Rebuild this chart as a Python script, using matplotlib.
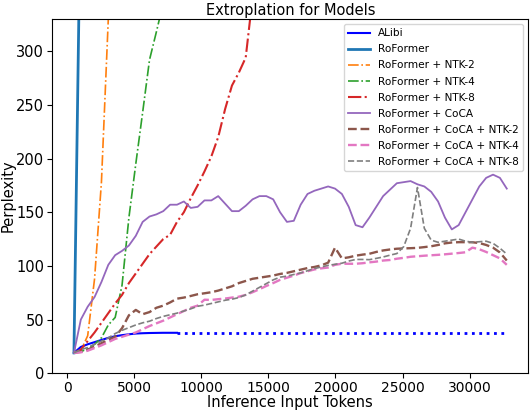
import matplotlib
matplotlib.use("Agg")
import matplotlib.pyplot as plt
import numpy as np

# context lengths evaluated (step of 512 tokens)
tokens = np.arange(512, 32768 + 1, 512)

alibi = [19, 24.5, 27, 29, 31, 33, 34.5, 35.5, 36.3, 37, 37.3, 37.5, 37.6, 37.7, 37.7, 37.7]
roformer = [19, 460, 1500]
ntk2 = [19, 21, 35, 88, 178, 330, 600]
ntk4 = [19, 20, 23, 27, 33, 45, 52, 82, 145, 195, 243, 292, 318, 345]
ntk8 = [19, 22, 30, 38, 47, 56, 65, 73, 84, 93, 102, 111, 118, 125, 129, 141,
        150, 163, 175, 188, 202, 220, 246, 268, 280, 294, 350]
coca = [19, 50, 62, 71, 85, 101, 110, 114, 119, 128, 141, 146, 148, 151, 157, 157,
        160, 154, 155, 161, 161, 165, 158, 151, 151, 156, 162, 165, 165, 162, 150, 141,
        142, 157, 167, 170, 172, 174, 172, 167, 155, 138, 136, 145, 155, 165, 171, 177,
        178, 179, 176, 174, 169, 160, 145, 134, 138, 150, 162, 174, 182, 185, 182, 172]
coca_ntk2 = [19, 20, 22, 25, 28, 31, 34, 42, 54, 59, 55, 57, 61, 63, 66, 69.5,
             70.5, 72, 73.6, 74.5, 75.5, 77, 79, 81, 84, 86, 88, 89, 90, 91, 92.5, 93.5,
             95, 96.5, 98, 99, 100.5, 103, 117, 107, 108, 109.5, 110.5, 111.3, 113, 114.4, 115.3, 116,
             116.3, 116.5, 116.8, 117.5, 118.3, 119.5, 121, 121.8, 122.1, 122.1, 122, 121.3, 119.5, 117, 112.5, 105]
coca_ntk4 = [19, 19.5, 21, 23.5, 26, 29, 32, 34, 36, 38, 41, 44, 46.5, 49, 52, 55,
             58, 61, 63, 68.5, 68.3, 69, 69.6, 70.5, 71.3, 73, 75.5, 78.3, 81.3, 84, 87, 89,
             91, 93.3, 95, 96.7, 97.7, 98.5, 101, 102, 102, 102, 102.5, 103.3, 104, 105, 105.5, 106.7,
             107.5, 108.5, 109, 109.5, 109.9, 110.3, 110.8, 111.4, 112, 112.7, 117, 115.5, 113, 110, 107, 101]
coca_ntk8 = [19, 22, 24, 27, 30, 33, 37, 40, 42.5, 45, 47, 48.5, 51, 53, 54.5, 56,
             58, 60, 62.4, 63.5, 65, 66.5, 68, 69, 70.5, 73, 76.5, 80, 83.5, 87, 89.5, 90.5,
             92, 93.5, 95.5, 97.5, 99, 100.5, 101.5, 102.5, 104.5, 106, 106, 105.8, 107, 108.3, 110, 111.5,
             118, 135, 173, 135, 124, 122, 123, 124, 125, 123, 122, 122.5, 123, 121, 116.5, 111]

fig = plt.figure(figsize=(5.3, 4.12), dpi=100)
ax = fig.add_axes([0.0987, 0.094, 0.8983, 0.86])

ax.plot(tokens[:len(alibi)], alibi, color="blue", lw=1.5, label="ALibi")
# ALibi beyond its trained length drawn as dotted continuation
ax.plot([tokens[len(alibi) - 1], tokens[-1]], [alibi[-1], alibi[-1]], color="blue", ls=":", lw=2)
ax.plot(tokens[:len(roformer)], roformer, color="tab:blue", lw=2, label="RoFormer")
ax.plot(tokens[:len(ntk2)], ntk2, color="tab:orange", ls="-.", lw=1.2, label="RoFormer + NTK-2")
ax.plot(tokens[:len(ntk4)], ntk4, color="tab:green", ls="-.", lw=1.2, label="RoFormer + NTK-4")
ax.plot(tokens[:len(ntk8)], ntk8, color="tab:red", ls="-.", lw=1.5, label="RoFormer + NTK-8")
ax.plot(tokens, coca, color="tab:purple", lw=1.3, label="RoFormer + CoCA")
ax.plot(tokens, coca_ntk2, color="tab:brown", ls="--", lw=1.7, label="RoFormer + CoCA + NTK-2")
ax.plot(tokens, coca_ntk4, color="tab:pink", ls="--", lw=1.7, label="RoFormer + CoCA + NTK-4")
ax.plot(tokens, coca_ntk8, color="tab:gray", ls="--", lw=1.2, label="RoFormer + CoCA + NTK-8")

ax.set_ylim(0, 330)
ax.set_title("Extroplation for Models", fontsize=10.5, pad=3)
ax.set_xlabel("Inference Input Tokens", fontsize=10.5, labelpad=0)
ax.set_ylabel("Perplexity", fontsize=10.5, labelpad=0)
ax.tick_params(axis="x", labelsize=10, pad=2)
ax.tick_params(axis="y", labelsize=10.5, pad=2.5)
ax.legend(loc="upper right", fontsize=7.6, labelspacing=0.57)

fig.savefig("out.png", dpi=100)
